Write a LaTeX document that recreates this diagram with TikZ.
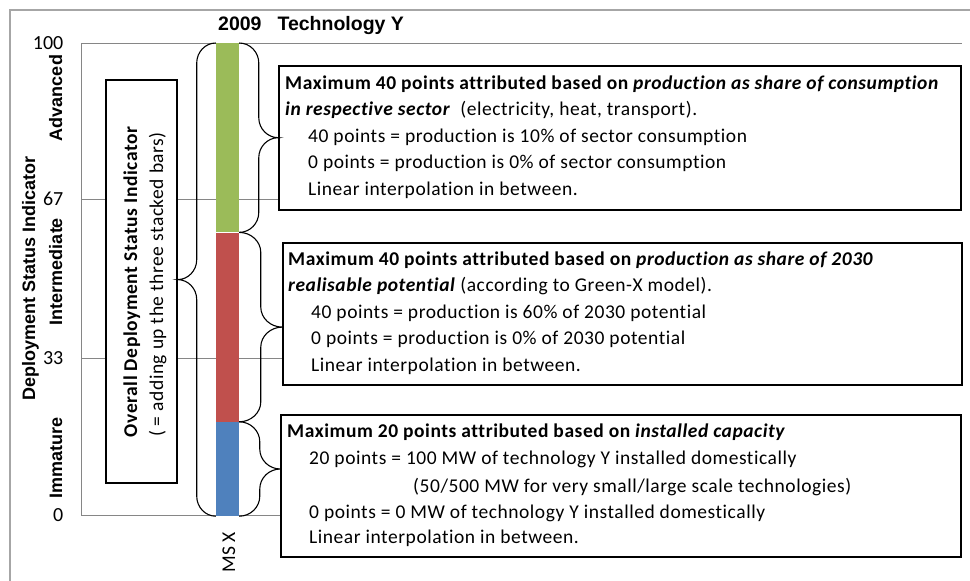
\documentclass[tikz,border=0pt]{standalone}
\usepackage{fontspec}
\setmainfont{Carlito}[Ligatures=NoCommon]
\newfontfamily\boxfont{Carlito}[LetterSpace=2.8,Ligatures=NoCommon]
\newfontfamily\arialfont{Liberation Sans}
\usetikzlibrary{calc,positioning}
\definecolor{barGreen}{HTML}{9BBB59}
\definecolor{barRed}{HTML}{C0504D}
\definecolor{barBlue}{HTML}{4F81BD}
\definecolor{gridGray}{HTML}{868686}
\definecolor{frameGray}{HTML}{A6A6A6}
% curly brace: #1 top end, #2 bottom end, #3 point where the tip sits
\newcommand{\curlybrace}[3]{%
	\draw[brace line] let \p1=(#1), \p2=(#2), \p3=(#3),
		\n1={(\x3-\x1)/2}, \n2={(\y1+\y2)/2} in
		(\p1) .. controls +(.55*\n1,0pt) and +(0pt,11pt) .. (\x1+\n1,\y1-20pt)
		-- (\x1+\n1,\n2+20pt) .. controls +(0pt,-11pt) and +(-.55*\n1,0pt) .. (\x3,\n2+0pt)
		.. controls +(-.55*\n1,0pt) and +(0pt,11pt) .. (\x1+\n1,\n2-20pt)
		-- (\x2+\n1,\y2+20pt) .. controls +(0pt,-11pt) and +(.55*\n1,0pt) .. (\p2);}
\begin{document}
\begin{tikzpicture}[x=1pt,y=-1pt,
	grid line/.style={gridGray,line width=0.8pt},
	bar/.style={inner sep=0pt,minimum width=23pt},
	info box/.style={draw,fill=white,line width=1.3pt,inner sep=0pt},
	brace line/.style={line width=1.1pt},
	box text/.style={anchor=base west,inner sep=0pt,font=\boxfont\fontsize{19.5}{23}\selectfont},
	axis text/.style={inner sep=0pt,font=\arialfont\bfseries\fontsize{18}{21}\selectfont}]
	\useasboundingbox (0,0) rectangle (970,581);
	\draw[frameGray,line width=1.5pt] (10,581) -- (10,10) -- (970,10); % chart frame
	\foreach \yy/\lab in {43/100,199/67,358/33,515/0}{
		\draw[grid line] (81,\yy) -- (962,\yy);
		\node[anchor=east,inner sep=0pt,font=\fontsize{20}{23}\selectfont] (tick\lab) at (63.5,\yy) {\lab};
	}
	\draw[grid line] (81,43) -- (81,515); % y axis
	\node[axis text,rotate=90,anchor=base] (ytitle) at (35,278.5) {Deployment Status Indicator};
	\node[axis text,rotate=90,anchor=base] (advanced) at (62,98) {Advanced};
	\node[axis text,rotate=90,anchor=base] (intermediate) at (62,271.5) {Intermediate};
	\node[axis text,rotate=90,anchor=base] (immature) at (62,458) {Immature};
	\node[axis text,anchor=base west,font=\arialfont\bfseries\fontsize{19.5}{23}\selectfont] (title) at (218,30) {2009\hspace{16pt}Technology Y};
	% stacked bar
	\node[bar,fill=barGreen,minimum height=189pt,anchor=north] (green) at (227.5,43) {};
	\node[bar,fill=barRed,minimum height=189pt,below=0pt of green] (red) {};
	\node[bar,fill=barBlue,minimum height=94pt,below=0pt of red] (blue) {};
	\node[rotate=90,anchor=base,inner sep=0pt,font=\fontsize{19.5}{23}\selectfont] (msx) at (235,552) {MS X};
	% overall box
	\node[info box,minimum width=71pt,minimum height=403pt] (ovbox) at (141.5,281.5) {};
	\node[rotate=90,anchor=base,inner sep=0pt,font=\boxfont\bfseries\fontsize{19.5}{23}\selectfont] (ovtitle) at (137,282) {Overall Deployment Status Indicator};
	\node[rotate=90,anchor=base,inner sep=0pt,font=\boxfont\fontsize{19.5}{23}\selectfont] (ovnote) at (163,284.5) {( = adding up the three stacked bars)};
	% info boxes
	\node[info box,minimum width=682pt,minimum height=144pt] (box1) at (620,138) {};
	\node[info box,minimum width=679pt,minimum height=142pt] (box2) at (622.5,314) {};
	\node[info box,minimum width=680pt,minimum height=142pt] (box3) at (621,486) {};
	% braces
	\curlybrace{green.north west}{blue.south west}{ovbox.east}
	\curlybrace{green.north east}{green.south east}{box1.west}
	\curlybrace{red.north east}{red.south east}{box2.west}
	\curlybrace{blue.north east}{blue.south east}{box3.west}
	% texts of box 1
	\node[box text] (b1a) at (285,89) {\textbf{Maximum 40 points attributed based on \textit{production as share of consumption}}};
	\node[box text] (b1b) at (285,115) {\textbf{\textit{in respective sector}}\ \ (electricity, heat, transport).};
	\node[box text] (b1c) at (308,142) {40 points = production is 10\% of sector consumption};
	\node[box text] (b1d) at (308,168) {0 points = production is 0\% of sector consumption};
	\node[box text] (b1e) at (308,195) {Linear interpolation in between.};
	% texts of box 2
	\node[box text] (b2a) at (288,265) {\textbf{Maximum 40 points attributed based on \textit{production as share of 2030}}};
	\node[box text] (b2b) at (288,291) {\textbf{\textit{realisable potential}}\ (according to Green-X model).};
	\node[box text] (b2c) at (311,318) {40 points = production is 60\% of 2030 potential};
	\node[box text] (b2d) at (311,344) {0 points = production is 0\% of 2030 potential};
	\node[box text] (b2e) at (311,371) {Linear interpolation in between.};
	% texts of box 3
	\node[box text] (b3a) at (287,437) {\textbf{Maximum 20 points attributed based on \textit{installed capacity}}};
	\node[box text] (b3b) at (309,464) {20 points = 100 MW of technology Y installed domestically};
	\node[box text] (b3c) at (413,492) {(50/500 MW for very small/large scale technologies)};
	\node[box text] (b3d) at (309,518) {0 points = 0 MW of technology Y installed domestically};
	\node[box text] (b3e) at (309,543) {Linear interpolation in between.};
\end{tikzpicture}
\end{document}
